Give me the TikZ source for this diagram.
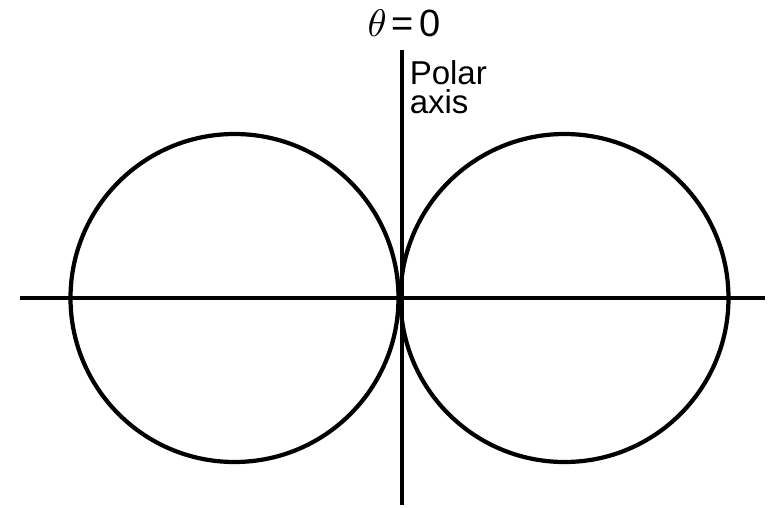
\documentclass[tikz,border=0pt]{standalone}
\usepackage{fontspec}
\setmainfont{Liberation Sans}
\begin{document}
\begin{tikzpicture}[line width = 1pt]
\tikzset{axisline/.style={line width=1pt},
  lobe/.style={line width=1.2pt}}
\useasboundingbox (-4.00,-2.09) rectangle (3.70,2.98);
\coordinate (O) at (0,0);
\coordinate (xl) at (-3.80,0);
\coordinate (xr) at (3.65,0);
\coordinate (yt) at (0.02,2.48);
\coordinate (yb) at (0.02,-2.07);
\coordinate (cl) at (-1.655,0);
\coordinate (cr) at (1.645,0);
\draw [axisline] (xl) -- (xr);
\draw [axisline] (yt) -- (yb);
\draw [lobe] (cl) circle [radius = 1.64cm];
\draw [lobe] (cr) circle [radius = 1.64cm];
\node (theta) at (0.04,2.75) {{\fontsize{10.8}{10.8}\selectfont $\theta$\kern1.5pt=\kern1.5pt0}};
\node (polar) [anchor=north west, align=left, inner sep=0pt,
  font=\fontsize{9.4}{8.2}\selectfont] at (0.08,2.39) {Polar\\axis};
\end{tikzpicture}
\end{document}
